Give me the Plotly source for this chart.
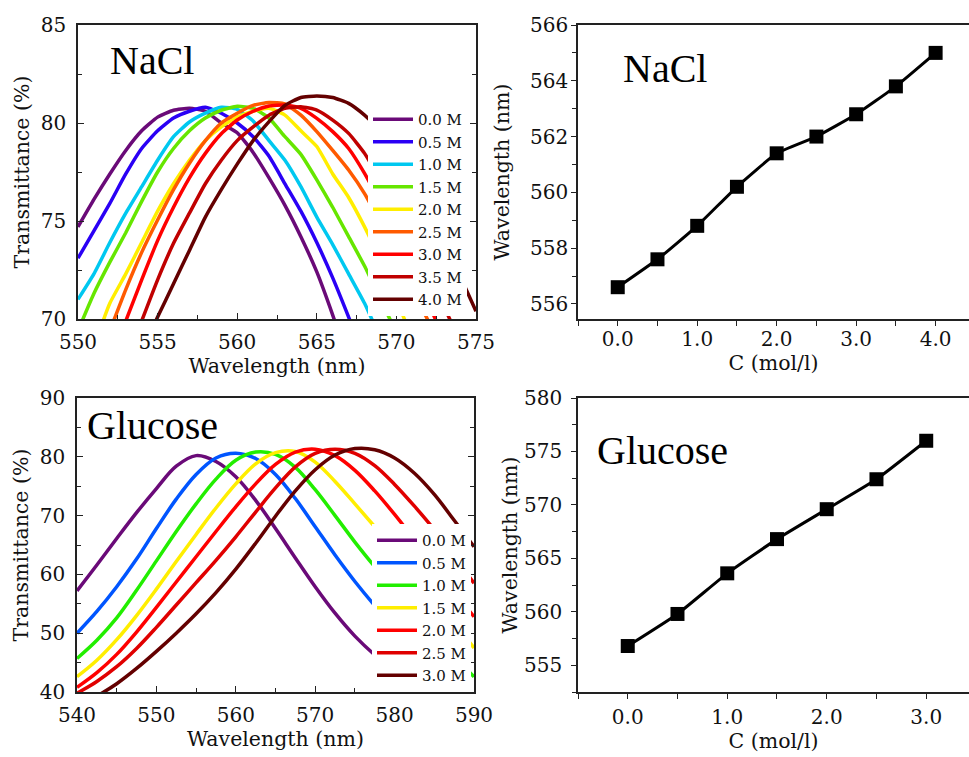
import plotly.graph_objects as go

W, H = 969, 757

# ---------------- NaCl spectra (top-left) ----------------
nacl_wl = list(range(550, 576))
nacl_labels = ["0.0 M", "0.5 M", "1.0 M", "1.5 M", "2.0 M", "2.5 M", "3.0 M", "3.5 M", "4.0 M"]
nacl_colors = ["#6a0a78", "#2a00f5", "#00c8f0", "#66e600", "#ffee00", "#ff5a00", "#ff0000", "#c00000", "#640000"]
N = None
nacl_00 = [74.7, 76.1, 77.4, 78.6, 79.6, 80.3, 80.65, 80.75, 80.6, 80.0, 79.5, 78.5, 77.2, 75.8, 74.2, 72.4, 70.2, 67.8, N, N, N, N, N, N, N, N]
nacl_05 = [73.1, 74.5, 75.9, 77.4, 78.7, 79.6, 80.25, 80.6, 80.8, 80.5, 80.0, 79.3, 78.3, 76.9, 75.5, 73.9, 72.1, 70.1, 68.0, N, N, N, N, N, N, N]
nacl_10 = [71.0, 72.3, 73.9, 75.4, 76.75, 78.1, 79.3, 80.05, 80.5, 80.8, 80.7, 80.1, 79.1, 78.1, 76.75, 75.2, 73.8, 72.3, 70.8, 69.0, N, N, N, N, N, N]
nacl_15 = [69.4, 71.3, 72.9, 74.4, 76.0, 77.5, 78.7, 79.6, 80.25, 80.65, 80.85, 80.75, 80.25, 79.3, 78.4, 77.1, 75.7, 74.2, 72.7, 71.0, 69.3, N, N, N, N, N]
nacl_20 = [N, 68.6, 70.8, 72.3, 73.9, 75.5, 76.9, 78.1, 79.1, 79.8, 80.3, 80.6, 80.75, 80.4, 79.6, 78.8, 77.4, 76.2, 74.7, 73.0, 71.0, 69.0, N, N, N, N]
nacl_25 = [N, N, 69.4, 71.5, 73.4, 75.05, 76.6, 77.95, 79.1, 80.0, 80.5, 80.9, 81.05, 80.97, 80.4, 79.56, 78.6, 77.6, 76.4, 74.9, 73.3, 71.6, 69.9, 68.2, N, N]
nacl_30 = [N, N, N, 69.9, 72.0, 74.0, 75.7, 77.2, 78.45, 79.45, 80.15, 80.6, 80.87, 80.92, 80.75, 80.24, 79.56, 78.7, 77.43, 75.9, 74.2, 72.5, 70.8, 69.0, N, N]
nacl_35 = [N, N, N, N, 69.9, 72.0, 73.86, 75.4, 76.9, 78.1, 79.1, 79.8, 80.4, 80.75, 80.83, 80.66, 80.15, 79.47, 78.45, 77.0, 75.3, 73.6, 71.9, 70.6, 68.8, N]
nacl_40 = [N, N, N, N, 68.4, 70.1, 71.8, 73.5, 75.2, 76.6, 77.9, 79.1, 80.07, 80.9, 81.3, 81.38, 81.3, 81.0, 80.4, 79.6, 78.5, 77.1, 75.5, 73.9, 72.2, 70.4]
nacl_series = [nacl_00, nacl_05, nacl_10, nacl_15, nacl_20, nacl_25, nacl_30, nacl_35, nacl_40]

# ---------------- Glucose spectra (bottom-left) ----------------
glu_wl = [540, 542.5, 545, 547.5, 550, 552.5, 555, 557.5, 560, 562.5, 565, 567.5, 570, 572.5, 575, 577.5, 580, 582.5, 585, 587.5, 590]
glu_labels = ["0.0 M", "0.5 M", "1.0 M", "1.5 M", "2.0 M", "2.5 M", "3.0 M"]
glu_colors = ["#6a0a78", "#0055ff", "#22ee00", "#ffee00", "#ff0000", "#e00000", "#640000"]
glu_00 = [57.2, 61.6, 66.1, 70.5, 74.6, 78.4, 80.2, 79.2, 76.6, 72.6, 67.8, 62.8, 57.9, 53.4, 49.5, 46.3, 43.6, 41.0, 38.4, N, N]
glu_05 = [50.0, 53.7, 57.9, 62.6, 67.8, 72.8, 77.0, 79.8, 80.6, 79.7, 77.0, 72.9, 68.1, 63.3, 58.8, 54.7, 50.9, 47.3, 43.8, 40.4, 37.2]
glu_10 = [45.7, 48.8, 52.6, 57.3, 62.3, 67.3, 72.0, 76.2, 79.4, 80.8, 80.4, 78.2, 74.4, 70.0, 65.5, 61.3, 57.3, 53.4, 49.6, 46.0, 42.6]
glu_15 = [42.6, 45.4, 48.9, 53.0, 57.5, 62.2, 66.8, 71.3, 75.4, 78.8, 80.7, 80.9, 79.1, 75.8, 72.0, 68.1, 64.1, 60.0, 55.9, 51.7, 47.5]
glu_20 = [40.8, 43.3, 46.4, 50.2, 54.4, 58.7, 63.0, 67.3, 71.5, 75.4, 78.7, 80.8, 81.3, 80.2, 77.7, 74.2, 70.2, 65.9, 61.5, 57.1, 52.8]
glu_25 = [39.8, 41.8, 44.3, 47.4, 51.0, 54.8, 58.6, 62.4, 66.4, 70.6, 74.7, 78.3, 80.6, 81.3, 80.6, 78.5, 75.3, 71.6, 67.6, 63.1, 58.5]
glu_30 = [37.5, 39.3, 41.4, 44.0, 46.9, 50.0, 53.3, 56.9, 60.9, 65.3, 69.9, 74.2, 77.8, 80.3, 81.4, 81.2, 79.8, 77.2, 73.6, 69.2, 64.7]
glu_series = [glu_00, glu_05, glu_10, glu_15, glu_20, glu_25, glu_30]

# ---------------- Peak wavelength vs concentration ----------------
nacl_c = [0.0, 0.5, 1.0, 1.5, 2.0, 2.5, 3.0, 3.5, 4.0]
nacl_peak = [556.6, 557.6, 558.8, 560.2, 561.4, 562.0, 562.8, 563.8, 565.0]
glu_c = [0.0, 0.5, 1.0, 1.5, 2.0, 2.5, 3.0]
glu_peak = [556.8, 559.8, 563.6, 566.8, 569.6, 572.4, 576.0]

TICK_FONT = dict(family="DejaVu Serif", size=20, color="#111")
TITLE_FONT = dict(family="DejaVu Serif", size=20.5, color="#111")
LEG_FONT = dict(family="DejaVu Serif", size=15, color="#111")
ANN_FONT = dict(family="Liberation Serif", size=40, color="black")

fig = go.Figure()

for name, col, ys in zip(nacl_labels, nacl_colors, nacl_series):
    fig.add_trace(go.Scatter(x=nacl_wl, y=ys, mode="lines", name=name,
                             line=dict(color=col, width=3.5, shape="spline", smoothing=0.5),
                             xaxis="x", yaxis="y", legend="legend"))

for name, col, ys in zip(glu_labels, glu_colors, glu_series):
    fig.add_trace(go.Scatter(x=glu_wl, y=ys, mode="lines", name=name,
                             line=dict(color=col, width=3.5, shape="spline", smoothing=1.0),
                             xaxis="x3", yaxis="y3", legend="legend2"))

fig.add_trace(go.Scatter(x=nacl_c, y=nacl_peak, mode="lines+markers", showlegend=False,
                         line=dict(color="black", width=3, shape="spline", smoothing=0.4),
                         marker=dict(symbol="square", size=14, color="black"),
                         xaxis="x2", yaxis="y2"))
fig.add_trace(go.Scatter(x=glu_c, y=glu_peak, mode="lines+markers", showlegend=False,
                         line=dict(color="black", width=3, shape="spline", smoothing=0.4),
                         marker=dict(symbol="square", size=14, color="black"),
                         xaxis="x4", yaxis="y4"))


def px_x(p):
    return p / W


def px_y(p):
    return 1 - p / H


axis_common = dict(showline=True, linecolor="#222", linewidth=1.5, showgrid=False,
                   zeroline=False, tickfont=TICK_FONT, tickcolor="#222", automargin=False)

fig.update_layout(
    width=W, height=H, margin=dict(l=0, r=0, t=0, b=0),
    paper_bgcolor="white", plot_bgcolor="white",
    xaxis=dict(axis_common, domain=[px_x(78), px_x(476)], range=[550, 575], dtick=5, tick0=550,
               ticks="inside", ticklen=6, mirror=True, ticklabelstandoff=4,
               minor=dict(dtick=2.5, ticks="inside", ticklen=4, tickcolor="#222"),
               title=dict(text="Wavelength (nm)", font=TITLE_FONT, standoff=4), anchor="y"),
    yaxis=dict(axis_common, domain=[px_y(319), px_y(25)], range=[70, 85], dtick=5, tick0=70,
               ticks="inside", ticklen=6, mirror="ticks", ticklabelstandoff=6,
               minor=dict(dtick=2.5, ticks="inside", ticklen=4, tickcolor="#222"),
               title=dict(text="Transmittance (%)", font=TITLE_FONT, standoff=6), anchor="x"),
    xaxis2=dict(axis_common, domain=[px_x(578), 1.0], range=[-0.5, 4.42], dtick=1, tick0=0,
                tickformat=".1f", ticks="outside", ticklen=5, mirror=True, ticklabelstandoff=-4,
                minor=dict(dtick=0.5, tick0=0, ticks="outside", ticklen=5, tickcolor="#222"),
                title=dict(text="C (mol/l)", font=TITLE_FONT, standoff=0), anchor="y2"),
    yaxis2=dict(axis_common, domain=[px_y(319), px_y(25)], range=[555.46, 566], dtick=2, tick0=556,
                ticks="outside", ticklen=5, mirror=False, ticklabelstandoff=-1,
                minor=dict(dtick=1, ticks="outside", ticklen=4, tickcolor="#222"),
                title=dict(text="Wavelength (nm)", font=TITLE_FONT, standoff=15), anchor="x2"),
    xaxis3=dict(axis_common, domain=[px_x(77), px_x(474)], range=[540, 590], dtick=10, tick0=540,
                ticks="inside", ticklen=6, mirror=True, ticklabelstandoff=4,
                minor=dict(dtick=5, ticks="inside", ticklen=4, tickcolor="#222"),
                title=dict(text="Wavelength (nm)", font=TITLE_FONT, standoff=3), anchor="y3"),
    yaxis3=dict(axis_common, domain=[px_y(692), px_y(398)], range=[40, 90], dtick=10, tick0=40,
                ticks="inside", ticklen=6, mirror="ticks", ticklabelstandoff=6,
                minor=dict(dtick=5, ticks="inside", ticklen=4, tickcolor="#222"),
                title=dict(text="Transmittance (%)", font=TITLE_FONT, standoff=6), anchor="x3"),
    xaxis4=dict(axis_common, domain=[px_x(578), 1.0], range=[-0.5, 3.43], dtick=1, tick0=0,
                tickformat=".1f", ticks="outside", ticklen=5, mirror=True, ticklabelstandoff=1,
                minor=dict(dtick=0.5, tick0=0, ticks="outside", ticklen=5, tickcolor="#222"),
                title=dict(text="C (mol/l)", font=TITLE_FONT, standoff=6), anchor="y4"),
    yaxis4=dict(axis_common, domain=[px_y(692), px_y(398)], range=[552.5, 580], dtick=5, tick0=555,
                ticks="outside", ticklen=5, mirror=False, ticklabelstandoff=5,
                minor=dict(dtick=2.5, ticks="outside", ticklen=4, tickcolor="#222"),
                title=dict(text="Wavelength (nm)", font=TITLE_FONT, standoff=1), anchor="x4"),
    legend=dict(x=px_x(368), y=px_y(103), xanchor="left", yanchor="top", bgcolor="white",
                font=LEG_FONT, itemwidth=40, tracegroupgap=0, borderwidth=0),
    legend2=dict(x=px_x(372), y=px_y(524), xanchor="left", yanchor="top", bgcolor="white",
                 font=LEG_FONT, itemwidth=40, tracegroupgap=0, borderwidth=0),
    annotations=[
        dict(text="NaCl", x=px_x(108), y=px_y(60), xref="paper", yref="paper",
             xanchor="left", yanchor="middle", showarrow=False, font=ANN_FONT),
        dict(text="NaCl", x=px_x(621), y=px_y(69), xref="paper", yref="paper",
             xanchor="left", yanchor="middle", showarrow=False, font=ANN_FONT),
        dict(text="Glucose", x=px_x(85), y=px_y(425), xref="paper", yref="paper",
             xanchor="left", yanchor="middle", showarrow=False, font=ANN_FONT),
        dict(text="Glucose", x=px_x(595), y=px_y(450), xref="paper", yref="paper",
             xanchor="left", yanchor="middle", showarrow=False, font=ANN_FONT),
    ],
)

fig.write_html("out.html", config={"displayModeBar": False},
               post_script="document.body.style.margin='0px';document.body.style.overflow='hidden';")
